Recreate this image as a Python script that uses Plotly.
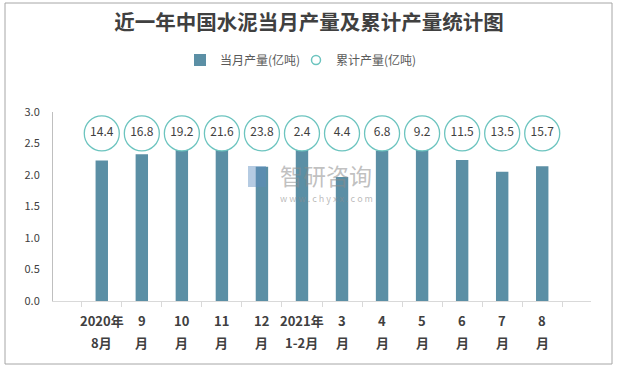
import plotly.graph_objects as go

categories = ["2020年8月", "9月", "10月", "11月", "12月", "2021年1-2月",
              "3月", "4月", "5月", "6月", "7月", "8月"]
label_line1 = ["2020年", "9", "10", "11", "12", "2021年", "3", "4", "5", "6", "7", "8"]
label_line2 = ["8月", "月", "月", "月", "月", "1-2月", "月", "月", "月", "月", "月", "月"]
monthly = [2.23, 2.33, 2.41, 2.43, 2.13, 2.42, 1.97, 2.39, 2.42, 2.24, 2.05, 2.14]
cumulative = [14.4, 16.8, 19.2, 21.6, 23.8, 2.4, 4.4, 6.8, 9.2, 11.5, 13.5, 15.7]
yticks = [0.0, 0.5, 1.0, 1.5, 2.0, 2.5, 3.0]

BAR_COLOR = "#5b8fa5"
CIRCLE_COLOR = "#6cc4bf"
LABEL_Y = 2.66
FONT = "Noto Sans CJK SC"

W, H = 618, 368
L, R, T, B = 53, 27, 112, 67
PW, PH = W - L - R, H - T - B

def px_x(x):
    return (x - L) / PW

def px_y(y):
    return (H - B - y) / PH

fig = go.Figure()
fig.add_trace(go.Bar(
    x=categories, y=monthly, name="当月产量(亿吨)", legend="legend",
    marker=dict(color=BAR_COLOR, line=dict(width=0)),
))
fig.add_trace(go.Scatter(
    x=categories, y=[LABEL_Y] * len(categories), mode="markers+text",
    text=[f"{v:.1f}" for v in cumulative], textposition="middle center",
    textfont=dict(family=FONT, size=12, color="#404040"),
    marker=dict(symbol="circle", size=35, color="white",
                line=dict(color=CIRCLE_COLOR, width=1.3)),
    showlegend=False, hoverinfo="skip",
))
fig.add_trace(go.Scatter(
    x=[None], y=[None], mode="markers", name="累计产量(亿吨)", legend="legend2",
    marker=dict(symbol="circle-open", size=9, color=CIRCLE_COLOR,
                line=dict(color=CIRCLE_COLOR, width=1.5)),
))

annotations = []
for c, a, b in zip(categories, label_line1, label_line2):
    annotations.append(dict(x=c, y=px_y(320), xref="x", yref="paper", text=f"<b>{a}</b>",
                            xanchor="center", yanchor="middle",
                            showarrow=False, font=dict(family=FONT, size=13, color="#404040")))
    annotations.append(dict(x=c, y=px_y(342), xref="x", yref="paper", text=f"<b>{b}</b>",
                            xanchor="center", yanchor="middle",
                            showarrow=False, font=dict(family=FONT, size=13, color="#404040")))

# watermark
annotations.append(dict(x=px_x(326), y=px_y(175), xref="paper", yref="paper", text="智研咨询",
                        xanchor="center", yanchor="middle",
                        showarrow=False, font=dict(family=FONT, size=23, color="rgba(140,140,140,0.55)")))
annotations.append(dict(x=px_x(326), y=px_y(198), xref="paper", yref="paper",
                        text="w w w . c h y x x . c o m", xanchor="center", yanchor="middle",
                        showarrow=False, font=dict(family=FONT, size=9, color="rgba(140,140,140,0.6)")))

shapes = [
    dict(type="rect", xref="paper", yref="paper", x0=px_x(5), x1=px_x(612), y0=px_y(364), y1=px_y(3),
         line=dict(color="#a6a6a6", width=1), fillcolor="rgba(0,0,0,0)", layer="below"),
    dict(type="rect", xref="paper", yref="paper", x0=px_x(248), x1=px_x(266), y0=px_y(187), y1=px_y(166),
         line=dict(width=0), fillcolor="rgba(90,140,190,0.45)", layer="above"),
]

legend_style = dict(orientation="h", yanchor="middle", y=px_y(60), xanchor="left",
                    font=dict(family=FONT, size=12, color="#595959"), itemwidth=30,
                    bgcolor="rgba(0,0,0,0)")

fig.update_layout(
    width=W, height=H,
    margin=dict(l=L, r=R, t=T, b=B),
    paper_bgcolor="white", plot_bgcolor="white",
    title=dict(text="<b>近一年中国水泥当月产量及累计产量统计图</b>", x=309 / W, xanchor="center",
               y=1 - 23 / H, yanchor="middle",
               font=dict(family=FONT, size=20.5, color="#404040")),
    legend=dict(x=px_x(180), **legend_style),
    legend2=dict(x=px_x(296), **legend_style),
    bargap=0.69,
    showlegend=True,
    annotations=annotations,
    shapes=shapes,
)
fig.update_xaxes(type="category", showticklabels=False, showline=True, linecolor="#d9d9d9",
                 ticks="outside", tickson="boundaries", ticklen=5, tickcolor="#d9d9d9",
                 showgrid=False, zeroline=False)
fig.update_yaxes(range=[0, 3], tickvals=yticks, ticktext=[f"{v:.1f}" for v in yticks],
                 showline=True, linecolor="#bfbfbf", showgrid=False, zeroline=False,
                 ticks="", ticklabelstandoff=10,
                 tickfont=dict(family=FONT, size=11, color="#404040"))

fig.write_html("out.html", config={"displayModeBar": False},
               post_script="document.body.style.margin='0';document.body.style.padding='0';")
